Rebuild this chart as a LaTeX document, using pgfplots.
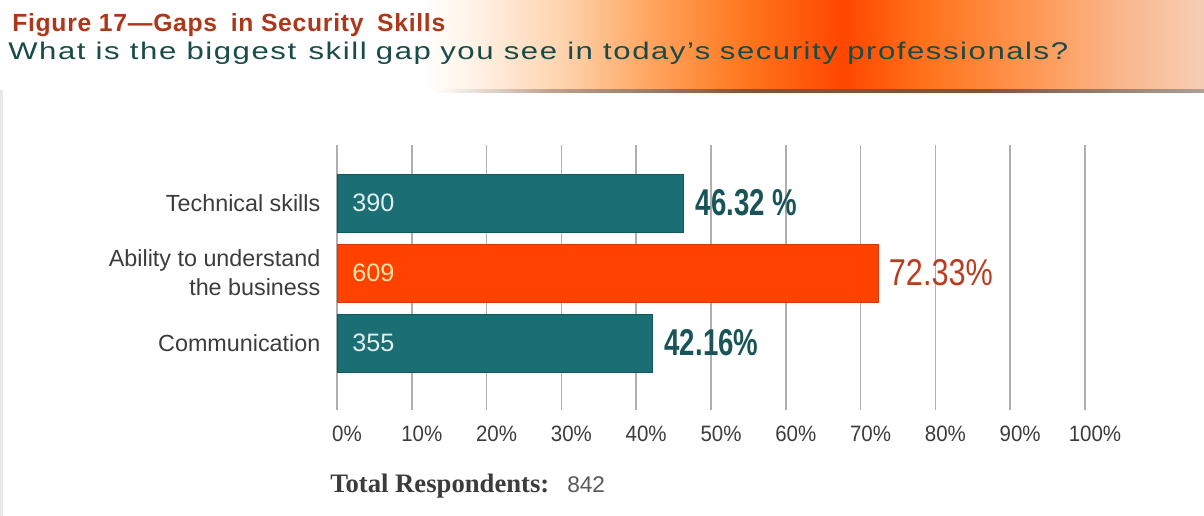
\documentclass[border=0pt]{standalone}
\usepackage{pgfplots}
\pgfplotsset{compat=1.18}
\usepackage{fontspec}
\setmainfont{Liberation Sans}
\newfontfamily\sansfam{Liberation Sans}
\newfontfamily\subfam{Liberation Sans}[LetterSpace=5]
\newfontfamily\titfam{Liberation Sans}[LetterSpace=3]
\newfontfamily\tickfam{Liberation Sans}[FakeStretch=0.92]
\newfontfamily\valfam{Liberation Sans}[FakeStretch=0.74]
\newfontfamily\orvalfam{Liberation Sans}[FakeStretch=0.82]
\newfontfamily\seriffam{Liberation Serif}

\definecolor{tealbar}{RGB}{27,110,115}
\definecolor{tealedge}{RGB}{20,88,92}
\definecolor{orbar}{RGB}{255,66,0}
\definecolor{oredge}{RGB}{215,55,10}
\definecolor{tealtext}{RGB}{25,85,88}
\definecolor{ortext}{RGB}{185,60,30}
\definecolor{cream}{RGB}{255,228,170}
\definecolor{cntwhite}{RGB}{225,238,238}
\definecolor{titlered}{RGB}{175,55,25}
\definecolor{subteal}{RGB}{25,75,72}
\definecolor{labgray}{RGB}{60,60,60}
\definecolor{gridgray}{RGB}{175,175,175}
\definecolor{edgegray}{RGB}{232,232,232}

\definecolor{bA}{RGB}{255,255,255}
\definecolor{bB}{RGB}{255,244,232}
\definecolor{bC}{RGB}{253,212,175}
\definecolor{bD}{RGB}{255,165,95}
\definecolor{bE}{RGB}{255,118,30}
\definecolor{bF}{RGB}{255,70,0}
\definecolor{bG}{RGB}{255,112,25}
\definecolor{bH}{RGB}{255,148,78}
\definecolor{bI}{RGB}{250,182,138}
\definecolor{bJ}{RGB}{246,206,182}
\pgfdeclarehorizontalshading{band}{100bp}{color(0bp)=(bA); color(25bp)=(bA); color(42.5bp)=(bA); color(44.5bp)=(bB); color(48.3bp)=(bC); color(52bp)=(bD); color(56bp)=(bE); color(60bp)=(bF); color(63.2bp)=(bG); color(67.4bp)=(bH); color(71.5bp)=(bI); color(75bp)=(bJ); color(100bp)=(bJ)}

\definecolor{sA}{RGB}{255,255,255}
\definecolor{sB}{RGB}{190,160,140}
\definecolor{sC}{RGB}{125,85,60}
\definecolor{sD}{RGB}{175,160,150}
\pgfdeclarehorizontalshading{shadowline}{100bp}{color(0bp)=(sA); color(25bp)=(sA); color(43bp)=(sA); color(48bp)=(sB); color(56bp)=(sC); color(66bp)=(sC); color(75bp)=(sD); color(100bp)=(sD)}

\begin{document}
\begin{tikzpicture}
\begin{scope}[x=0.75pt,y=-0.75pt]
  \path[use as bounding box] (0,0) rectangle (1204,516);
  \shade[shading=band] (0,0) rectangle (1204,90);
  \shade[shading=shadowline] (0,90) rectangle (1204,93);
  \fill[edgegray] (0,90) rectangle (3,516);
  \node[anchor=base west, inner sep=0pt] at (12,32)
    {\resizebox{324.75pt}{13.5pt}{\color{titlered}\titfam\bfseries Figure 17—Gaps\hspace{0.55em}in Security\hspace{0.55em}Skills}};
  \node[anchor=base west, inner sep=0pt] at (8,60)
    {\resizebox{795pt}{13.1pt}{\color{subteal}\subfam What is the biggest\hspace{0.4em}skill\hspace{0.3em}gap\hspace{0.3em}you see in today’s\hspace{0.3em}security\hspace{0.3em}professionals?}};
  \node[anchor=base west, inner sep=0pt] at (330,493)
    {\color{labgray}\seriffam\bfseries\fontsize{20}{24}\selectfont Total Respondents:};
  \node[anchor=base west, inner sep=0pt] at (567,493)
    {\color{labgray!85}\sansfam\fontsize{17}{20}\selectfont 842};
\end{scope}

\begin{axis}[
  at={(252.75pt,-307.5pt)}, anchor=south west,
  scale only axis, width=561pt, height=198.75pt,
  xmin=0, xmax=100, ymin=-0.957, ymax=2.829,
  axis line style={draw=none},
  xtick={0,10,...,100},
  xticklabels={0\%,10\%,20\%,30\%,40\%,50\%,60\%,70\%,80\%,90\%,100\%},
  ytick={0,1,2},
  yticklabels={Communication,{Ability to understand\\the business},Technical skills},
  major tick length=0pt,
  xmajorgrids, ymajorgrids=false,
  grid style={gridgray, line width=1.1pt},
  xticklabel style={font=\tickfam\fontsize{16.7}{20}\selectfont, text=labgray, anchor=center, yshift=-18pt, xshift=7.5pt},
  yticklabel style={font=\sansfam\fontsize{17.5}{21.75}\selectfont, text=labgray, align=right, anchor=east, xshift=-9pt},
  set layers,
  clip=false,
]
% percentage labels, under the grid as in the reference
\addplot[on layer=axis background, only marks, mark=*, mark size=0pt, mark options={draw=none,fill=none},
  nodes near coords, point meta=explicit symbolic,
  every node near coord/.append style={anchor=west, inner sep=0pt, xshift=9pt, text=tealtext,
    font=\valfam\bfseries\fontsize{28}{30}\selectfont}]
  coordinates {(46.32,2) [46.32 \%] (42.16,0) [42.16\%]};
\addplot[on layer=axis background, only marks, mark=*, mark size=0pt, mark options={draw=none,fill=none},
  nodes near coords, point meta=explicit symbolic,
  every node near coord/.append style={anchor=west, inner sep=0pt, xshift=8pt, text=ortext,
    font=\orvalfam\fontsize{28}{30}\selectfont}]
  coordinates {(72.33,1) [72.33\%]};
% bars
\addplot[xbar, bar width=43.5pt, bar shift=0pt, fill=tealbar, draw=tealedge, line width=0.6pt]
  coordinates {(46.32,2) (42.16,0)};
\addplot[xbar, bar width=43.5pt, bar shift=0pt, fill=orbar, draw=oredge, line width=0.6pt]
  coordinates {(72.33,1)};
% respondent counts inside bars
\addplot[only marks, mark=*, mark size=0pt, mark options={draw=none,fill=none},
  nodes near coords, point meta=explicit symbolic,
  every node near coord/.append style={anchor=west, inner sep=0pt, xshift=11.25pt, text=cntwhite,
    font=\sansfam\fontsize{18.9}{20}\selectfont}]
  coordinates {(0,2) [390] (0,0) [355]};
\addplot[only marks, mark=*, mark size=0pt, mark options={draw=none,fill=none},
  nodes near coords, point meta=explicit symbolic,
  every node near coord/.append style={anchor=west, inner sep=0pt, xshift=11.25pt, text=cream,
    font=\sansfam\fontsize{18.9}{20}\selectfont}]
  coordinates {(0,1) [609]};
\end{axis}
\end{tikzpicture}
\end{document}
